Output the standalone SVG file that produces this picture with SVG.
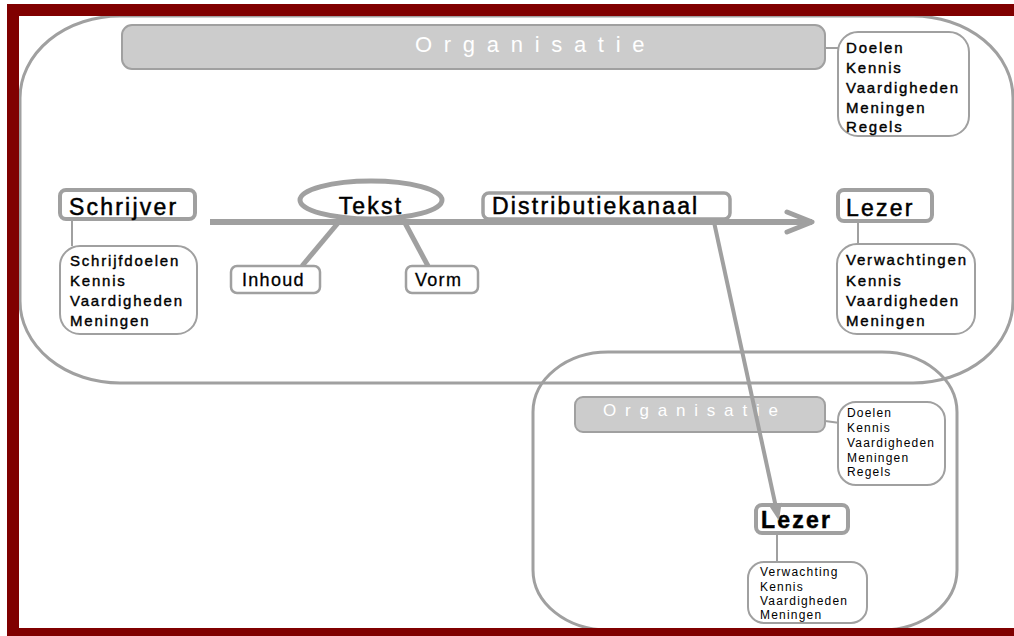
<svg xmlns="http://www.w3.org/2000/svg" width="1014" height="636" viewBox="0 0 1014 636">
<style>
text{font-family:"Liberation Sans",Arial,sans-serif;fill:#000}
.g{fill:none;stroke:#a0a0a0}
.box{fill:#fff;stroke:#a0a0a0}
.bar{fill:#cccccc;stroke:#a0a0a0;stroke-width:2}
.org1{font-size:22px;fill:#fff;letter-spacing:11.7px}
.org2{font-size:17px;fill:#fff;letter-spacing:8.8px}
.h{font-size:23px;letter-spacing:2.2px;stroke:#000;stroke-width:0.5px}
.m{font-size:18px;letter-spacing:1.3px;stroke:#000;stroke-width:0.3px}
.l{font-size:15px;letter-spacing:1.8px;stroke:#000;stroke-width:0.4px}
.s{font-size:12px;letter-spacing:1.2px}
.c{stroke:#a0a0a0;fill:none}
</style>
<defs>
<marker id="chev" markerUnits="userSpaceOnUse" markerWidth="34" markerHeight="30" refX="28" refY="14" orient="auto" overflow="visible">
<path d="M3,4 L28,14 L3,24" fill="none" stroke="#a0a0a0" stroke-width="5" stroke-linecap="round" stroke-linejoin="round"/>
</marker>
<marker id="tri" markerUnits="userSpaceOnUse" markerWidth="18" markerHeight="14" refX="8" refY="6.5" orient="auto" overflow="visible">
<path d="M0,0 L17,6.5 L0,13 Z" fill="#a0a0a0"/>
</marker>
</defs>
<rect x="0" y="0" width="1014" height="636" fill="#fff"/>

<g id="org-top-area">
<rect class="g" x="20" y="16" width="993" height="367" rx="100" ry="82" stroke-width="3"/>
</g>
<g id="org-bottom-area">
<rect class="g" x="533" y="352" width="424" height="278" rx="75" ry="60" stroke-width="3"/>
</g>

<g id="connectors">
<line class="c" x1="825" y1="48" x2="840" y2="48" stroke-width="2"/>
<line class="c" x1="825" y1="421" x2="840" y2="423" stroke-width="2"/>
<line class="c" x1="72" y1="219" x2="72" y2="246" stroke-width="2"/>
<line class="c" x1="858" y1="222" x2="858" y2="244" stroke-width="2"/>
<line class="c" x1="777" y1="533" x2="777" y2="562" stroke-width="2"/>
<line class="c" x1="338" y1="223" x2="302" y2="266" stroke-width="5"/>
<line class="c" x1="405" y1="223" x2="428" y2="266" stroke-width="5"/>
<line class="c" x1="210" y1="222" x2="812" y2="222" stroke-width="6" marker-end="url(#chev)"/>
</g>

<g id="organisatie-top">
<rect class="bar" x="122" y="25" width="703" height="44" rx="10"/>
<text class="org1" x="415" y="52">Organisatie</text>
</g>
<g id="organisatie-top-list">
<rect class="box" x="838" y="32" width="131" height="104" rx="20" stroke-width="2"/>
<text class="l" x="846" y="53">Doelen</text>
<text class="l" x="846" y="73">Kennis</text>
<text class="l" x="846" y="93">Vaardigheden</text>
<text class="l" x="846" y="113">Meningen</text>
<text class="l" x="846" y="132">Regels</text>
</g>

<g id="schrijver">
<rect class="box" x="60" y="190" width="135" height="29" rx="6" stroke-width="4"/>
<text class="h" x="69" y="215">Schrijver</text>
</g>
<g id="schrijver-list">
<rect class="box" x="60" y="246" width="137" height="88" rx="20" stroke-width="2"/>
<text class="l" x="70" y="266">Schrijfdoelen</text>
<text class="l" x="70" y="286">Kennis</text>
<text class="l" x="70" y="306">Vaardigheden</text>
<text class="l" x="70" y="326">Meningen</text>
</g>

<g id="tekst">
<ellipse class="box" cx="371" cy="200" rx="71" ry="19" stroke-width="5"/>
<text class="h" x="371" y="214" text-anchor="middle" letter-spacing="1.5">Tekst</text>
</g>
<g id="inhoud">
<rect class="box" x="231" y="266" width="89" height="27" rx="6" stroke-width="2.5"/>
<text class="m" x="242" y="286">Inhoud</text>
</g>
<g id="vorm">
<rect class="box" x="406" y="266" width="72" height="27" rx="6" stroke-width="2.5"/>
<text class="m" x="415" y="286">Vorm</text>
</g>

<g id="distributiekanaal">
<rect class="box" x="483" y="193" width="247" height="26" rx="6" stroke-width="3.5"/>
<text class="h" x="492" y="214" letter-spacing="1.2">Distributiekanaal</text>
</g>

<g id="lezer-top">
<rect class="box" x="838" y="190" width="94" height="31" rx="6" stroke-width="4"/>
<text class="h" x="846" y="216" letter-spacing="2.2">Lezer</text>
</g>
<g id="lezer-top-list">
<rect class="box" x="837" y="244" width="138" height="90" rx="20" stroke-width="2"/>
<text class="l" x="846" y="265">Verwachtingen</text>
<text class="l" x="846" y="286">Kennis</text>
<text class="l" x="846" y="306">Vaardigheden</text>
<text class="l" x="846" y="326">Meningen</text>
</g>

<g id="organisatie-bottom">
<rect class="bar" x="575" y="397" width="250" height="35" rx="8"/>
<text class="org2" x="603" y="416">Organisatie</text>
</g>
<g id="organisatie-bottom-list">
<rect class="box" x="838" y="402" width="107" height="83" rx="18" stroke-width="2"/>
<text class="s" x="847" y="417">Doelen</text>
<text class="s" x="847" y="432">Kennis</text>
<text class="s" x="847" y="447">Vaardigheden</text>
<text class="s" x="847" y="462">Meningen</text>
<text class="s" x="847" y="476">Regels</text>
</g>

<g id="lezer-bottom">
<rect class="box" x="756" y="505" width="92" height="28" rx="6" stroke-width="4"/>
<text class="h" x="761" y="528" font-weight="bold" letter-spacing="2">Lezer</text>
</g>
<g id="lezer-bottom-list">
<rect class="box" x="748" y="562" width="119" height="61" rx="16" stroke-width="2"/>
<text class="s" x="760" y="576">Verwachting</text>
<text class="s" x="760" y="591">Kennis</text>
<text class="s" x="760" y="605">Vaardigheden</text>
<text class="s" x="760" y="619">Meningen</text>
</g>

<g id="distribution-arrow">
<line class="c" x1="714" y1="222" x2="777" y2="512" stroke-width="4" marker-end="url(#tri)"/>
</g>

<g id="frame" fill="#800000">
<rect x="7" y="4" width="1007" height="12"/>
<rect x="7" y="4" width="12" height="632"/>
<rect x="7" y="628" width="1007" height="8"/>
</g>
</svg>
